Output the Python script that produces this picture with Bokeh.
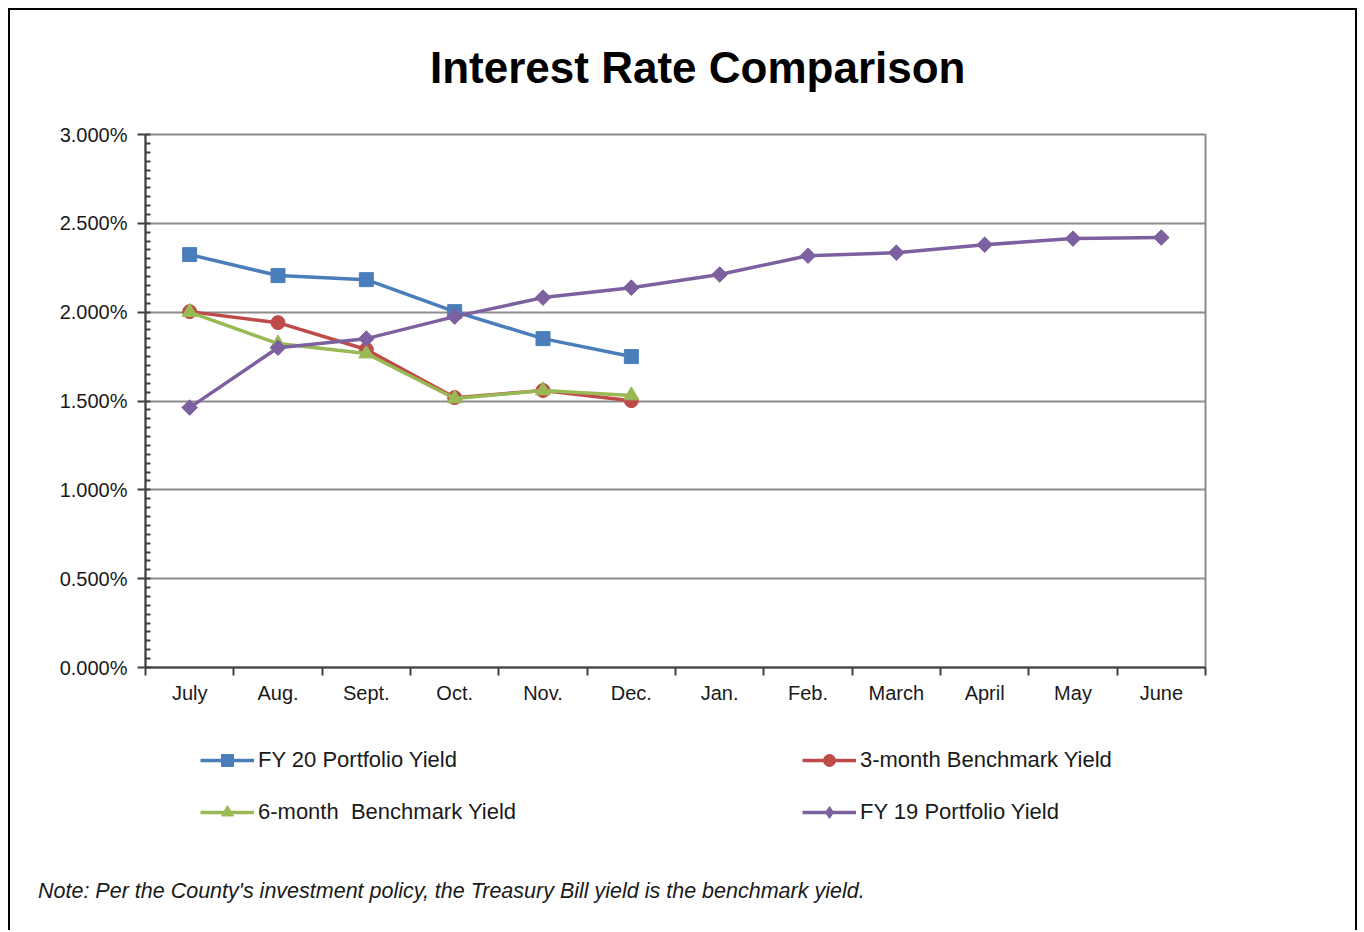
import math
from bokeh.plotting import figure
from bokeh.layouts import column
from bokeh.models import (FixedTicker, PrintfTickFormatter, Legend, LegendItem,
                          ColumnDataSource, Range1d, Div)
from bokeh.embed import file_html
from bokeh.resources import INLINE

months = ["July", "Aug.", "Sept.", "Oct.", "Nov.", "Dec.", "Jan.", "Feb.",
          "March", "April", "May", "June"]
fy20_yield = [2.324, 2.206, 2.183, 2.003, 1.851, 1.750]
bench_3m = [2.003, 1.941, 1.790, 1.519, 1.559, 1.502]
bench_6m = [2.000, 1.823, 1.767, 1.514, 1.559, 1.531]
fy19_yield = [1.463, 1.800, 1.851, 1.975, 2.082, 2.138, 2.212, 2.318, 2.335,
              2.380, 2.414, 2.420]
y_ticks = [0.0, 0.5, 1.0, 1.5, 2.0, 2.5, 3.0]
title_text = "Interest Rate Comparison"
note_text = "Note: Per the County's investment policy, the Treasury Bill yield is the benchmark yield."

# name, values, colour, marker, size, angle, legend marker
series = [
    ("FY 20 Portfolio Yield", fy20_yield, "#4A7EBB", "square", 14, 0.0, "square"),
    ("3-month Benchmark Yield", bench_3m, "#BE4B48", "circle", 14, 0.0, "circle"),
    ("6-month  Benchmark Yield", bench_6m, "#98B954", "triangle", 15, 0.0, "triangle"),
    ("FY 19 Portfolio Yield", fy19_yield, "#7D60A0", "square", 11, math.pi / 4, "diamond"),
]

FONT = "Liberation Sans"
TEXT = "#1a1a1a"
W = 1349
H0 = 100
H1 = 609
H2 = 130
H3 = 83
SIDE = {"border-left": "2px solid black", "border-right": "2px solid black"}

title = Div(text=title_text, width=W, height=H0, margin=(8, 0, 0, 8),
            styles=dict(SIDE, **{"border-top": "2px solid black",
                                 "box-sizing": "border-box",
                                 "padding-left": "420px", "padding-top": "33px",
                                 "font-family": "'Liberation Sans', Arial, sans-serif",
                                 "font-weight": "bold", "font-size": "44px",
                                 "line-height": "50px", "color": "black",
                                 "white-space": "nowrap",
                                 "background-color": "white"}))

p = figure(width=W, height=H1, output_backend="svg", toolbar_location=None,
           x_range=Range1d(0, len(months)), y_range=Range1d(0, 3.0),
           min_border_left=135, min_border_right=154, min_border_top=26,
           min_border_bottom=50, margin=(0, 0, 0, 8))
p.styles = dict(SIDE)
p.background_fill_color = "white"
p.border_fill_color = "white"
p.outline_line_color = "#8C8C8C"
p.outline_line_width = 2

# axes
centers = [i + 0.5 for i in range(len(months))]
bounds = [float(i) for i in range(len(months) + 1)]
xa = p.xaxis[0]
xa.ticker = FixedTicker(ticks=centers, minor_ticks=bounds)
xa.major_label_overrides = {c: m for c, m in zip(centers, months)}
xa.major_tick_out = 0
xa.major_tick_in = 0
xa.minor_tick_out = 8
xa.minor_tick_in = 0
xa.axis_line_color = "#404040"
xa.axis_line_width = 2
xa.minor_tick_line_color = "#404040"
xa.minor_tick_line_width = 2
xa.major_label_text_font = FONT
xa.major_label_text_font_size = "20px"
xa.major_label_text_color = TEXT
xa.major_label_standoff = 6

minor_y = [i * 0.05 for i in range(61)]
ya = p.yaxis[0]
ya.ticker = FixedTicker(ticks=y_ticks, minor_ticks=minor_y)
ya.formatter = PrintfTickFormatter(format="%.3f%%")
ya.major_tick_out = 8
ya.major_tick_in = 0
ya.minor_tick_in = 5
ya.minor_tick_out = 0
ya.axis_line_color = "#404040"
ya.axis_line_width = 2
ya.major_tick_line_color = "#404040"
ya.major_tick_line_width = 2
ya.minor_tick_line_color = "#404040"
ya.minor_tick_line_width = 2
ya.major_label_text_font = FONT
ya.major_label_text_font_size = "20px"
ya.major_label_text_color = TEXT
ya.major_label_standoff = 10

p.xgrid.grid_line_color = None
p.ygrid.ticker = FixedTicker(ticks=y_ticks)
p.ygrid.grid_line_color = "#8C8C8C"
p.ygrid.grid_line_width = 2

# series
for name, vals, color, marker, size, ang, lmarker in series:
    src = ColumnDataSource(dict(x=centers[:len(vals)], y=vals))
    p.line("x", "y", source=src, line_color=color, line_width=3.5)
    p.scatter("x", "y", source=src, marker=marker, size=size, angle=ang,
              fill_color=color, line_color=color)

# legend panel (same series, hidden renderers, only their legend is shown)
q = figure(width=W, height=H2, output_backend="svg", toolbar_location=None,
           x_range=Range1d(0, len(months)), y_range=Range1d(0, 3.0),
           x_axis_type=None, y_axis_type=None, min_border=0,
           margin=(0, 0, 0, 8))
q.styles = dict(SIDE)
q.outline_line_color = None
q.grid.grid_line_color = None
q.background_fill_color = "white"
q.border_fill_color = "white"

items = []
for name, vals, color, marker, size, ang, lmarker in series:
    src = ColumnDataSource(dict(x=centers[:len(vals)], y=vals))
    lr = q.line("x", "y", source=src, line_color=color, line_width=3.5,
                visible=False)
    sr = q.scatter("x", "y", source=src, marker=lmarker, size=size,
                   fill_color=color, line_color=color, visible=False)
    items.append(LegendItem(label=name, renderers=[lr, sr]))

leg_rows = [([items[0], items[1]], 345, (55, 72)),
            ([items[2], items[3]], 286, (55, 20))]
for row_items, spacing, loc in leg_rows:
    lg = Legend(items=row_items, orientation="horizontal", location=loc,
                padding=0, margin=0, spacing=spacing, border_line_color=None,
                background_fill_alpha=0, glyph_width=54, glyph_height=30,
                label_standoff=4, label_text_font=FONT,
                label_text_font_size="22px", label_text_color=TEXT,
                label_height=30, inactive_fill_alpha=0)
    q.add_layout(lg, "center")

note = Div(text=note_text, width=W, height=H3, margin=(0, 0, 0, 8),
           styles=dict(SIDE, **{"box-sizing": "border-box",
                                "padding-left": "28px", "padding-top": "32px",
                                "font-family": "'Liberation Sans', Arial, sans-serif",
                                "font-style": "italic", "font-size": "21.5px",
                                "line-height": "24px", "color": TEXT,
                                "white-space": "nowrap",
                                "background-color": "white"}))

layout = column(title, p, q, note, spacing=0)
open("out.html", "w").write(file_html(layout, INLINE))
